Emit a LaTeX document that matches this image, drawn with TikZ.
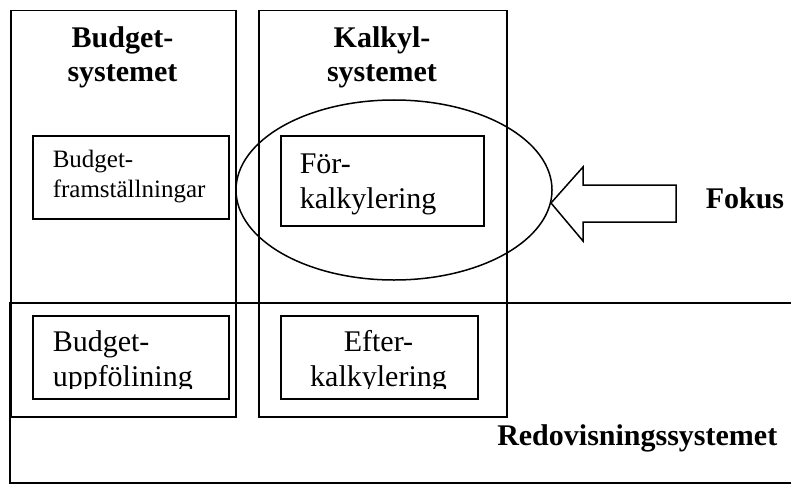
\documentclass[tikz,border=0pt]{standalone}
\usepackage{fontspec}
\setmainfont{Liberation Serif}
\usepackage{tikz}
\usetikzlibrary{shapes.geometric}

\tikzset{
  sysbox/.style={draw, line width=0.6pt, inner sep=0pt, anchor=north west},
  head/.style={font=\fontsize{12}{13.8}\selectfont\bfseries, align=center, inner sep=0pt},
  bigtxt/.style={font=\fontsize{12}{13.8}\selectfont, inner sep=0pt},
  smalltxt/.style={font=\fontsize{10}{11.6}\selectfont, align=left, inner sep=0pt}
}

\begin{document}
\begin{tikzpicture}[x=0.4pt,y=-0.4pt,line width=0.6pt]
    \useasboundingbox (0,0) rectangle (791,486);

    % Redovisningssystemet (open to the right)
    \draw (791,303) -- (10,303) -- (10,483) -- (791,483);

    % the two columns
    \node[sysbox, minimum width=225*0.4pt, minimum height=406*0.4pt] (budget) at (10,10) {};
    \node[sysbox, minimum width=248*0.4pt, minimum height=406*0.4pt] (kalkyl) at (258,10) {};

    % base of a two-line node = baseline of its last line
    \node[head, anchor=base] (budgethead) at (122.5,82) {Budget-\\systemet};
    \node[head, anchor=base] (kalkylhead) at (382,82) {Kalkyl-\\systemet};

    % inner boxes
    \node[sysbox, minimum width=196*0.4pt, minimum height=83*0.4pt] (fram) at (32,135) {};
    \node[sysbox, minimum width=203*0.4pt, minimum height=90*0.4pt] (forkalk) at (280,135) {};
    \node[sysbox, minimum width=196*0.4pt, minimum height=83*0.4pt] (uppf) at (32,315) {};
    \node[sysbox, minimum width=197*0.4pt, minimum height=83*0.4pt] (efter) at (280,315) {};

    \node[smalltxt, anchor=base west] (framtxt) at (52,197) {Budget-\\framställningar};
    \node[bigtxt, align=left, anchor=base west] (forktxt) at (299,208) {För-\\kalkylering};

    % texts cut off at the bottom of the lower boxes
    \begin{scope}
      \clip (32,315) rectangle (477,388);
      \node[bigtxt, align=left, anchor=base west] (uppftxt) at (52,386) {Budget-\\uppfölining};
      \node[bigtxt, align=center, anchor=base] (eftertxt) at (378.5,386) {Efter-\\kalkylering};
    \end{scope}

    % focus ellipse and arrow
    \draw (394,190) ellipse [x radius=158, y radius=90];
    \draw (551,203) -- (583,167) -- (583,185) -- (676,185) -- (676,222)
          -- (583,222) -- (583,241) -- cycle;

    \node[head, anchor=base west] (fokus) at (705,208) {Fokus};
    \node[head, anchor=base east] (redov) at (778,445) {Redovisningssystemet};
\end{tikzpicture}
\end{document}
